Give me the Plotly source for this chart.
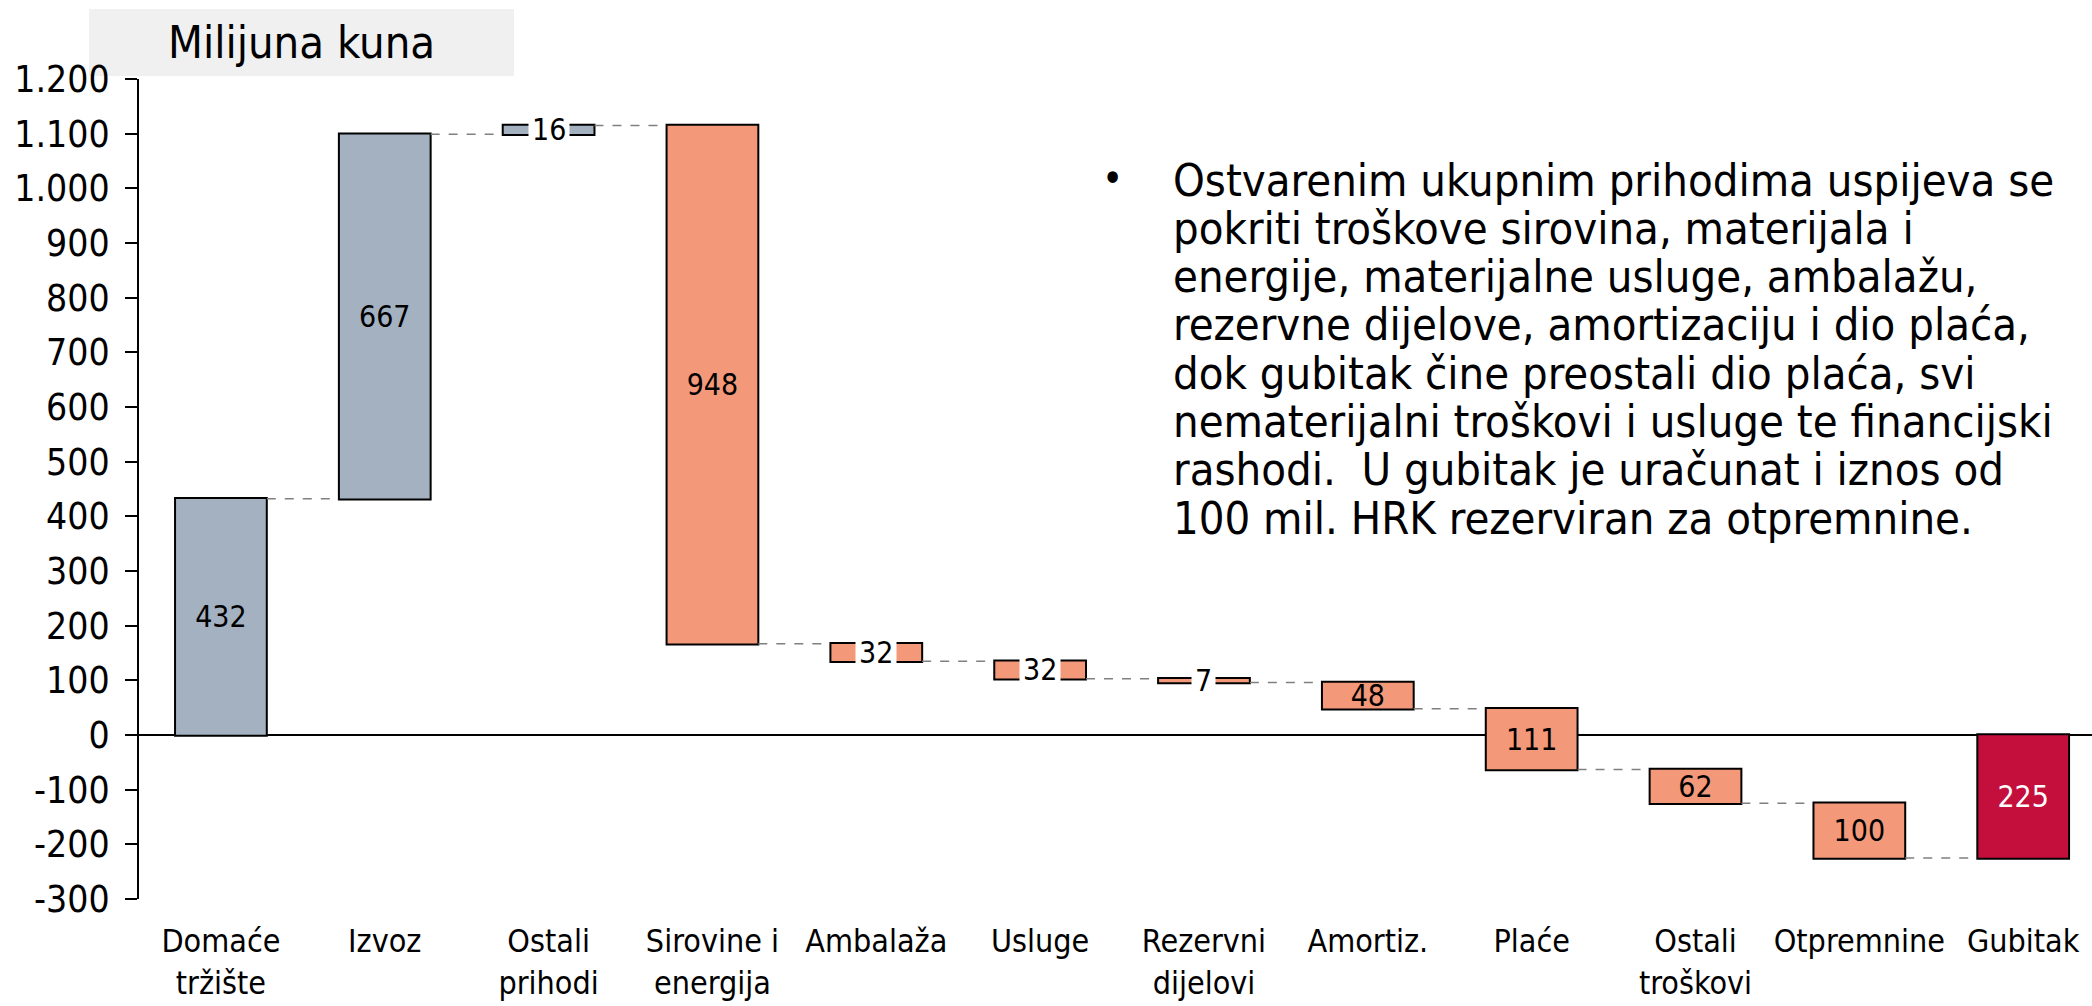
import numpy as np
import plotly.graph_objects as go

# ---------------- data ----------------
categories = ["Domaće<br>tržište", "Izvoz", "Ostali<br>prihodi", "Sirovine i<br>energija",
              "Ambalaža", "Usluge", "Rezervni<br>dijelovi", "Amortiz.", "Plaće",
              "Ostali<br>troškovi", "Otpremnine", "Gubitak"]
values = [432, 667, 16, -948, -32, -32, -7, -48, -111, -62, -100, -225]
measures = ["relative"] * 11 + ["total"]
y_tickvals = [1200, 1100, 1000, 900, 800, 700, 600, 500, 400, 300, 200, 100, 0, -100, -200, -300]
y_ticktext = ["1.200", "1.100", "1.000", "900", "800", "700", "600", "500", "400", "300",
              "200", "100", "0", "-100", "-200", "-300"]
title_text = "Milijuna kuna"
bullet_lines = [
    "Ostvarenim ukupnim prihodima uspijeva se",
    "pokriti troškove sirovina, materijala i",
    "energije, materijalne usluge, ambalažu,",
    "rezervne dijelove, amortizaciju i dio plaća,",
    "dok gubitak čine preostali dio plaća, svi",
    "nematerijalni troškovi i usluge te financijski",
    "rashodi.  U gubitak je uračunat i iznos od",
    "100 mil. HRK rezerviran za otpremnine.",
]

# ---------------- style ----------------
FONT = "DejaVu Sans Condensed, DejaVu Sans, sans-serif"
C_INC = "#A3B1C0"
C_DEC = "#F4987A"
C_TOT = "#C40E3C"
W, H = 2092, 1006
L, R, T, B = 139, 0, 79, 107
PW, PH = W - L - R, H - T - B


def px(xp):
    return (xp - L) / PW


def py(yp):
    return (T + PH - yp) / PH


vals = np.array(values[:-1], dtype=float)
ends = np.cumsum(vals)
starts = ends - vals
mids = list(starts + vals / 2)
total = ends[-1]
mids.append(total / 2)

small = [abs(v) < 40 for v in values]
labels = [str(abs(v)) for v in values]
bar_text = ["" if s else t for s, t in zip(small, labels)]
text_colors = ["black"] * (len(values) - 1) + ["white"]

fig = go.Figure()
fig.add_trace(go.Waterfall(
    x=categories,
    y=values,
    measure=measures,
    text=bar_text,
    textposition="inside",
    insidetextanchor="middle",
    constraintext="none",
    textangle=0,
    textfont=dict(family=FONT, size=30, color=text_colors),
    increasing=dict(marker=dict(color=C_INC, line=dict(color="black", width=2))),
    decreasing=dict(marker=dict(color=C_DEC, line=dict(color="black", width=2))),
    totals=dict(marker=dict(color=C_TOT, line=dict(color="black", width=2))),
    connector=dict(mode="between", line=dict(color="#808080", width=1.5, dash="dash")),
    width=0.56,
    showlegend=False,
    hoverinfo="skip",
))

annotations = []
for cat, m, s, t in zip(categories, mids, small, labels):
    if s:
        annotations.append(dict(
            x=cat, y=m, xref="x", yref="y", text=t, showarrow=False,
            font=dict(family=FONT, size=30, color="black"),
            bgcolor="white", borderpad=3, xanchor="center", yanchor="middle",
        ))

# title box (shape drawn below axis labels) + title text
shapes = [dict(
    type="rect", xref="paper", yref="paper", layer="below",
    x0=px(89), x1=px(514), y0=py(76), y1=py(9),
    fillcolor="#F0F0F0", line=dict(width=0),
)]
annotations.append(dict(
    x=px(301.5), y=py(43), xref="paper", yref="paper", text=title_text,
    showarrow=False, font=dict(family=FONT, size=45, color="black"),
    xanchor="center", yanchor="middle",
))

# bullet text
annotations.append(dict(
    x=px(1112), y=py(178), xref="paper", yref="paper", text="•",
    showarrow=False, font=dict(family=FONT, size=40, color="black"),
    xanchor="center", yanchor="middle", borderpad=0,
))
for i, line in enumerate(bullet_lines):
    annotations.append(dict(
        x=px(1171), y=py(180 + i * 48.3), xref="paper", yref="paper", text=line,
        showarrow=False, font=dict(family=FONT, size=45, color="black"),
        xanchor="left", yanchor="middle",
    ))

fig.update_layout(
    width=W, height=H, autosize=False,
    margin=dict(l=L, r=R, t=T, b=B, pad=0),
    paper_bgcolor="white", plot_bgcolor="rgba(0,0,0,0)",
    font=dict(family=FONT, color="black"),
    annotations=annotations,
    shapes=shapes,
    xaxis=dict(
        type="category", range=[-0.5, 11.42], showgrid=False, showline=False,
        zeroline=False, ticks="", tickfont=dict(family=FONT, size=32, color="black"),
        ticklabelstandoff=20, automargin=False,
    ),
    yaxis=dict(
        range=[-300, 1200], showgrid=False, showline=True, linecolor="black", linewidth=2,
        zeroline=True, zerolinecolor="black", zerolinewidth=2,
        ticks="outside", ticklen=12, tickwidth=2, tickcolor="black",
        tickvals=y_tickvals, ticktext=y_ticktext,
        tickfont=dict(family=FONT, size=37, color="black"),
        ticklabelstandoff=8, automargin=False,
    ),
)

fig.write_html("out.html", config={"displayModeBar": False},
               post_script="document.body.style.margin='0';document.body.style.overflow='hidden';")
